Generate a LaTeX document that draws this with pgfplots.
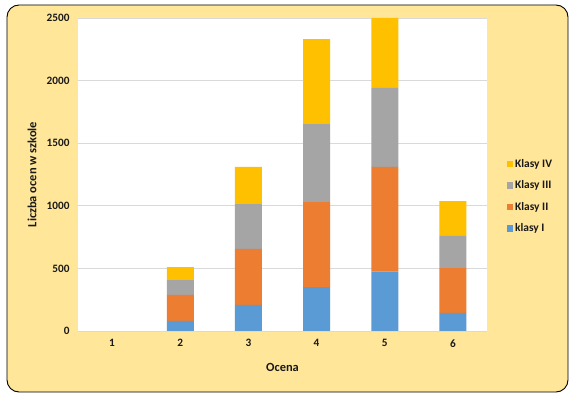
\documentclass[border=0pt]{standalone}
\usepackage{pgfplots}
\pgfplotsset{compat=1.18}
\usepackage{fontspec}
\setmainfont{Carlito}
\definecolor{cblue}{HTML}{5B9BD5}
\definecolor{corange}{HTML}{ED7D31}
\definecolor{cgray}{HTML}{A5A5A5}
\definecolor{cyellow}{HTML}{FFC000}
\definecolor{cbg}{HTML}{FFE699}
\definecolor{cgrid}{HTML}{D9D9D9}
\begin{document}
\begin{tikzpicture}
\useasboundingbox (-78bp,-66bp) rectangle (493bp,331bp);
\fill[cbg,draw=black,line width=0.9bp,rounded corners=12bp] (-71bp,-61bp) rectangle (490bp,326bp);
\begin{axis}[
  at={(0,0)}, anchor=south west,
  scale only axis, width=409bp, height=313bp,
  ybar stacked, bar width=27bp,
  xmin=0.5, xmax=6.5, ymin=0, ymax=2500,
  xtick={1,2,3,4,5,6},
  ytick={0,500,1000,1500,2000,2500},
  /pgf/number format/assume math mode=true,
  /pgf/number format/set thousands separator={},
  major tick length=0,
  axis line style={draw=none},
  ymajorgrids, major grid style={cgrid, line width=0.8bp},
  axis background/.style={fill=white},
  ticklabel style={font=\bfseries\fontsize{11.3}{13}\selectfont, text=black!90},
  yticklabel style={xshift=-5bp},
  xticklabel style={yshift=-5bp},
  xlabel={Ocena}, ylabel={Liczba ocen w szkole},
  label style={font=\bfseries\fontsize{12.5}{14}\selectfont, text=black!90},
  xlabel style={at={(axis description cs:0.5,-0.115)}, anchor=center},
  ylabel style={at={(axis description cs:-0.1125,0.5)}, anchor=center},
  legend style={at={(axis description cs:1.04,0.43)}, anchor=west, draw=none, fill=none,
    font=\bfseries\fontsize{11.5}{13}\selectfont, text=black!90, row sep=8bp,
    /tikz/every even column/.append style={column sep=1.5bp}},
  legend cell align=left,
  reverse legend,
  legend image code/.code={\fill[#1] (0bp,-3bp) rectangle (6.5bp,3.5bp);},
]
\addplot[fill=cblue, draw=none] coordinates {(1,0) (2,80) (3,208) (4,351) (5,474) (6,144)};
\addplot[fill=corange, draw=none] coordinates {(1,0) (2,208) (3,447) (4,679) (5,836) (6,359)};
\addplot[fill=cgray, draw=none] coordinates {(1,0) (2,119) (3,359) (4,623) (5,631) (6,256)};
\addplot[fill=cyellow, draw=none] coordinates {(1,0) (2,104) (3,296) (4,679) (5,559) (6,279)};
\legend{klasy I, Klasy II, Klasy III, Klasy IV}
\end{axis}
\end{tikzpicture}
\end{document}
